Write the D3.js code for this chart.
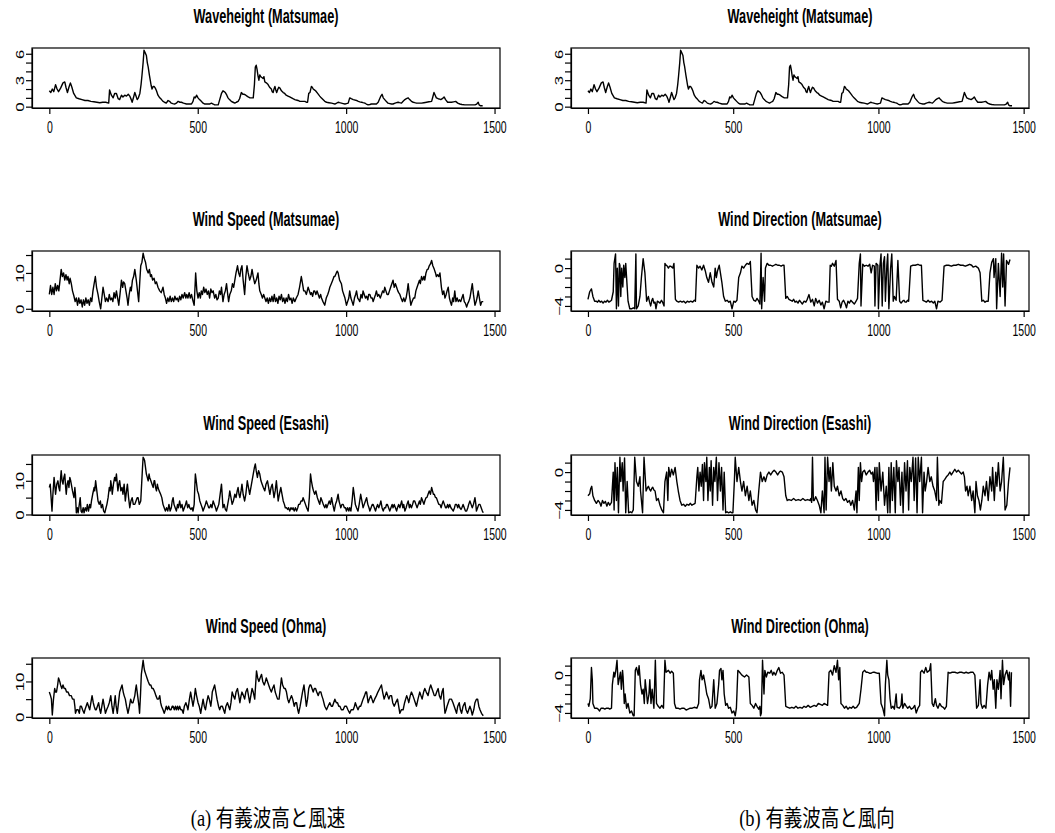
<!DOCTYPE html>
<html>
<head>
<meta charset="utf-8">
<script src="https://cdn.jsdelivr.net/npm/d3@7"></script>
<style>
  body { margin: 0; background: #fff; }
  text { font-family: "Liberation Sans", Arial, Helvetica, sans-serif; }
</style>
</head>
<body>
<script>
// values: [time index, value]
const waveMatsumae = [[0,1.8],[5,1.6],[10,2.0],[15,1.7],[21,2.5],[26,2.0],[31,1.7],[38,2.1],[46,2.7],[52,2.8],[56,2.2],[61,1.6],[66,2.2],[71,2.7],[76,2.2],[82,1.5],[91,1.0],[100,0.9],[110,0.8],[120,0.7],[130,0.7],[140,0.6],[150,0.55],[160,0.5],[170,0.45],[180,0.5],[190,0.5],[200,0.4],[203,1.9],[209,1.3],[215,1.0],[220,1.5],[226,1.5],[232,0.9],[237,0.8],[243,1.3],[248,1.1],[254,1.3],[260,1.2],[266,1.4],[271,1.2],[276,0.8],[279,0.5],[284,1.1],[288,1.6],[292,1.2],[296,0.8],[300,1.0],[305,1.5],[309,2.5],[312,3.5],[316,5.0],[319,6.4],[323,6.1],[327,5.8],[330,5.0],[333,4.5],[337,3.6],[340,3.0],[343,2.4],[346,2.0],[350,2.3],[353,2.3],[357,2.1],[361,1.8],[366,1.3],[372,1.0],[378,0.8],[383,0.6],[388,0.5],[394,0.4],[400,0.7],[405,0.6],[411,0.4],[416,0.35],[422,0.3],[428,0.4],[434,0.6],[440,0.5],[445,0.5],[452,0.4],[462,0.3],[470,0.3],[479,0.3],[484,0.6],[488,1.1],[492,1.0],[496,1.3],[501,1.0],[506,0.8],[512,0.6],[518,0.4],[524,0.3],[530,0.3],[535,0.3],[541,0.3],[546,0.4],[552,0.3],[557,0.2],[563,0.2],[569,0.2],[574,0.8],[580,1.5],[585,1.8],[589,1.7],[593,1.6],[598,1.3],[602,1.0],[607,0.8],[613,0.6],[619,0.5],[625,0.4],[630,0.5],[636,0.6],[641,0.9],[647,1.6],[652,1.4],[657,1.4],[662,1.3],[666,1.2],[670,1.1],[676,1.0],[681,1.0],[687,1.0],[691,2.5],[694,4.5],[697,4.7],[700,4.2],[703,3.5],[706,3.0],[709,3.6],[712,3.4],[716,3.3],[720,3.2],[723,3.4],[726,2.8],[731,2.7],[737,2.5],[742,2.2],[748,2.0],[751,1.7],[754,1.6],[757,2.0],[760,2.3],[763,1.9],[766,1.6],[769,1.9],[773,2.2],[777,2.1],[782,1.8],[788,1.6],[793,1.5],[798,1.3],[804,1.2],[810,1.1],[816,1.0],[821,0.9],[827,0.8],[832,0.75],[838,0.7],[844,0.6],[849,0.6],[855,0.6],[861,0.6],[866,0.5],[870,0.5],[872,1.0],[874,1.5],[878,1.6],[883,2.3],[886,2.2],[889,2.0],[893,1.9],[897,1.8],[904,1.5],[911,1.2],[916,1.0],[922,0.8],[928,0.6],[934,0.5],[942,0.45],[951,0.4],[957,0.35],[962,0.3],[968,0.4],[973,0.5],[978,0.45],[984,0.4],[990,0.35],[996,0.3],[1001,0.35],[1007,0.4],[1012,1.0],[1017,0.9],[1024,0.8],[1030,0.75],[1035,0.7],[1041,0.6],[1046,0.55],[1052,0.5],[1057,0.45],[1063,0.4],[1068,0.3],[1074,0.2],[1080,0.25],[1085,0.3],[1093,0.3],[1102,0.3],[1108,0.5],[1113,0.9],[1117,1.2],[1121,1.4],[1125,1.0],[1130,0.8],[1135,0.6],[1141,0.4],[1147,0.35],[1153,0.3],[1158,0.3],[1165,0.4],[1170,0.45],[1175,0.5],[1180,0.45],[1186,0.4],[1192,0.6],[1198,0.8],[1203,0.9],[1209,1.0],[1214,0.8],[1220,0.6],[1226,0.5],[1231,0.45],[1237,0.4],[1245,0.4],[1254,0.4],[1262,0.45],[1271,0.5],[1279,0.55],[1288,0.6],[1292,1.1],[1296,1.6],[1300,1.3],[1304,1.0],[1310,0.9],[1315,0.85],[1319,0.8],[1324,0.9],[1330,1.1],[1335,0.8],[1342,0.5],[1348,0.5],[1355,0.5],[1362,0.55],[1369,0.6],[1376,0.4],[1383,0.3],[1390,0.25],[1400,0.2],[1408,0.2],[1416,0.2],[1425,0.2],[1434,0.2],[1440,0.3],[1445,0.5],[1448,0.2],[1453,0.1],[1460,0.1]];

const speedMatsumae = [[0,4],[4,6.5],[8,4],[12,6],[16,4],[20,7],[24,5],[28,6.5],[32,5],[36,8],[40,11],[44,9],[48,10],[52,8],[56,9.5],[60,8],[63,9],[67,7],[70,8.5],[74,7],[78,5],[83,3.5],[87,2],[91,3],[95,1],[99,3],[103,1.5],[107,2.5],[111,0.5],[115,2.5],[119,1],[123,3],[127,1.5],[131,2.5],[135,1],[139,3],[143,2],[147,5],[151,7],[155,9],[159,6],[164,4],[168,2],[173,0],[177,3],[181,6],[185,4],[189,2],[193,3],[198,2],[202,4],[206,2.5],[210,3],[214,2],[218,4.5],[222,3],[226,5],[230,3],[234,1],[238,4],[243,8],[247,6],[250,7.5],[254,7],[258,5],[262,3],[265,1],[269,4],[273,6],[276,5],[280,8],[284,9],[288,11],[293,8],[297,5],[301,2],[305,8],[308,12],[312,13],[316,15.5],[320,14],[324,13],[328,11],[333,10],[337,11],[341,9],[344,9.5],[348,8],[353,8.5],[357,7],[361,7.5],[366,6],[372,5],[377,4.5],[383,6],[387,4],[391,3],[395,1.5],[399,3],[403,2],[407,3.5],[411,2],[415,3],[419,2],[423,3.5],[427,2.5],[431,3],[435,2],[439,3.5],[443,2.5],[447,4],[451,3],[456,4.5],[460,3],[463,4],[467,3],[471,4.5],[475,3],[479,4],[483,2.5],[488,1],[493,10],[497,5],[501,3],[505,4.5],[509,3],[512,5],[516,4],[520,6],[524,4.5],[528,5.5],[532,4],[536,5],[540,3],[544,5.5],[548,4.5],[552,5],[557,3],[561,4],[565,2.5],[569,3],[573,5],[577,4],[580,6],[585,2],[589,4],[593,5],[597,7],[601,4],[604,2],[608,4],[613,5],[617,7],[621,6],[625,8],[629,10],[634,12],[638,10],[642,9],[645,11],[649,12],[653,8],[658,4],[662,9],[666,12],[670,10],[675,8],[679,9],[683,11],[687,9],[692,7],[697,8],[703,10],[706,7],[709,5],[714,4],[718,3],[722,4],[726,3],[730,2],[734,3],[738,1.5],[742,3],[746,2],[750,3.5],[754,2],[758,4],[762,2],[766,3],[770,1.5],[774,3.5],[778,2.5],[782,4],[786,2],[790,3],[794,1.5],[798,3],[802,2],[806,4],[810,2.5],[814,3],[818,1.5],[822,3],[827,2],[832,3],[838,4],[843,6],[849,9],[853,7],[857,5],[861,5],[866,4],[872,6],[876,5],[880,4],[883,4.5],[887,3.5],[891,5],[894,5],[898,4],[902,5],[906,4],[910,3],[914,4],[917,3],[922,2],[928,1],[933,3],[938,4],[942,5],[945,6],[950,7],[955,8],[959,9],[962,9],[967,10],[970,10.5],[973,10],[978,8],[984,7],[988,5],[992,4],[996,3],[1001,1],[1005,2],[1009,3],[1012,5],[1016,3],[1020,2],[1024,1],[1028,3],[1032,4],[1035,5],[1039,3],[1043,2.5],[1046,2],[1050,4],[1054,3],[1057,5],[1061,4],[1065,3],[1069,3.5],[1073,2.5],[1076,4],[1080,4],[1084,3],[1088,3],[1091,2],[1095,3],[1099,4],[1102,5],[1106,3.5],[1110,4],[1115,3],[1119,4],[1123,5],[1127,4.5],[1130,6],[1134,5],[1138,4],[1142,4],[1146,5],[1150,6],[1154,7],[1158,8],[1162,6],[1166,7],[1170,6],[1174,5],[1177,4.5],[1181,4],[1185,3],[1190,2],[1194,3],[1198,2],[1202,3],[1206,5],[1209,7],[1213,4],[1218,1],[1222,2],[1227,3],[1231,3],[1235,5],[1239,6],[1243,7],[1247,8],[1250,7],[1254,9],[1258,8],[1262,9],[1265,8],[1269,10],[1273,11],[1276,11],[1280,12],[1284,12.5],[1288,13.5],[1292,12],[1297,11],[1301,10],[1304,9],[1308,9.5],[1312,9],[1316,10],[1321,6],[1325,4],[1329,5],[1333,3],[1337,4],[1340,5],[1344,6],[1348,3],[1351,2],[1355,1],[1359,3],[1362,2],[1366,5],[1370,2],[1374,3],[1378,2],[1382,2.5],[1386,2],[1390,3],[1394,4],[1398,2],[1402,1.5],[1406,0.5],[1410,1.5],[1413,2],[1417,3],[1421,5],[1425,7],[1429,4],[1434,1],[1438,2],[1441,3],[1445,5],[1449,3],[1453,1],[1457,2],[1462,2]];

const speedEsashi = [[0,8],[3,9],[6,5],[9,1],[12,6],[16,11],[19,8],[21,6],[25,9],[29,10],[32,8],[35,7],[38,11],[40,13],[43,10],[46,9],[49,11],[52,12],[55,8],[57,6],[60,9],[63,10],[66,8],[69,11],[72,10],[74,9],[78,7],[83,5],[86,8],[88,6],[91,0.5],[94,2],[97,0.5],[101,3],[104,5],[107,1],[110,0.5],[114,2],[117,0.5],[121,2],[125,1],[128,3],[132,1],[136,3],[139,2],[142,4],[146,6],[151,8],[153,7],[156,10],[160,7],[164,4],[168,3],[172,4],[175,2],[179,3],[183,1],[187,0.5],[191,2],[194,3],[198,5],[202,8],[205,7],[207,10],[210,8],[212,6],[216,9],[220,11],[223,10],[226,12],[229,9],[231,7],[234,9],[237,10],[241,7],[245,8],[248,6],[252,9],[256,4],[260,7],[263,9],[267,5],[271,2],[275,4],[279,5],[283,3],[288,3],[292,4],[296,5],[299,5],[303,3],[308,4],[311,9],[314,14],[316,17],[319,16.5],[321,16],[324,14],[327,12],[330,11],[333,10],[336,12],[338,11],[342,10],[346,9],[350,8],[353,10],[355,10],[358,8],[361,7],[364,9],[366,8],[370,7],[375,6],[379,5],[383,3],[387,2],[391,1],[395,2],[399,1],[403,3],[407,1],[411,2],[414,4],[417,5],[420,3],[424,2],[428,1],[432,3],[435,2],[439,4],[443,2],[447,3],[451,1],[455,2],[459,3],[462,4],[466,2],[470,3],[473,2],[477,1.5],[481,2],[484,1],[488,3],[490,8],[492,12],[495,10],[499,7],[503,6],[507,4],[511,3],[515,2],[518,1],[522,2],[526,3],[529,4],[533,3],[537,2],[540,2],[544,3],[548,2],[552,4],[556,3],[560,2],[563,1],[567,2],[571,3],[574,5],[577,7],[580,9],[583,5],[585,2],[589,3],[593,1.5],[597,1],[601,3],[605,5],[608,7],[612,5],[616,3],[620,4],[625,6],[629,5],[633,7],[636,8],[639,6],[642,5],[646,7],[649,9],[653,6],[658,4],[662,6],[667,10],[671,8],[675,6],[679,8],[683,10],[687,12],[691,14],[694,15],[697,13],[701,11],[705,13],[709,12],[713,10],[717,9],[721,8],[726,7],[730,9],[735,10],[739,8],[743,6],[747,8],[751,9],[754,7],[757,5],[761,7],[765,10],[768,7],[771,4],[775,6],[780,8],[784,6],[788,4],[792,3],[795,2],[799,2],[803,1.5],[806,2],[810,1],[814,2],[818,1.5],[821,2],[825,1],[829,2],[833,1],[837,2],[840,3],[844,3],[848,4],[852,4],[855,5],[859,4],[863,3],[867,2],[872,1],[876,5],[880,12],[883,10],[887,8],[890,7],[894,6],[898,7],[903,5],[907,4],[911,3],[915,5],[919,4],[923,3],[928,2],[932,3],[935,2],[939,3],[943,4],[947,3],[951,5],[955,3],[960,1],[964,3],[968,4],[973,6],[976,4],[979,3],[982,2],[986,3],[990,3],[994,2],[998,2],[1001,1],[1005,2],[1009,1],[1012,2],[1016,1],[1020,4],[1024,8],[1027,6],[1031,3],[1035,2],[1040,1],[1044,3],[1049,6],[1053,4],[1057,2],[1061,3],[1065,4],[1069,5],[1073,3],[1077,2],[1080,1],[1084,2],[1088,3],[1091,3],[1095,2],[1099,1],[1102,2],[1106,3],[1110,2],[1114,3],[1117,4],[1121,2],[1125,1],[1129,2],[1133,2],[1136,3],[1139,3],[1143,2],[1147,1],[1151,2],[1155,3],[1158,2],[1162,3],[1166,2],[1170,1],[1173,2],[1177,3],[1181,2],[1184,3],[1187,4],[1191,2],[1194,3],[1198,1],[1202,2],[1205,3],[1209,4],[1213,2],[1216,3],[1220,2],[1224,3],[1227,4],[1231,4],[1235,3],[1239,2],[1243,3],[1247,4],[1250,3],[1254,5],[1258,4],[1262,3],[1265,4],[1269,5],[1272,5],[1276,6],[1280,7],[1284,6],[1288,8],[1291,7],[1294,6],[1297,6],[1301,5],[1304,5],[1308,4],[1312,3],[1316,3],[1320,2],[1323,3],[1327,4],[1331,3],[1335,2],[1338,2],[1342,3],[1345,2],[1349,3],[1353,2],[1357,1.5],[1361,1],[1365,2],[1368,3],[1372,3],[1376,2],[1379,3],[1383,2],[1387,1.5],[1390,2],[1394,3],[1398,2],[1402,1],[1406,1],[1410,2],[1413,3],[1417,4],[1421,3],[1425,2],[1429,3],[1434,5],[1437,3],[1439,1],[1443,2],[1447,3],[1451,3],[1455,2],[1459,1],[1462,0.5]];

const speedOhma = [[0,7],[4,6],[7,5],[10,0.5],[14,5],[18,8],[21,7],[24,7],[28,9],[31,11],[35,10],[38,9],[42,8],[46,9],[50,8],[54,8],[58,7],[63,7],[68,6],[74,6],[78,5],[83,5],[86,3],[88,1],[92,2],[97,2],[101,1],[104,3],[108,3],[112,2],[117,1],[120,2],[124,3],[128,4],[132,3],[136,2],[140,4],[144,6],[148,4],[151,3],[155,2],[158,2],[162,3],[166,4],[170,2],[173,1],[177,3],[181,5],[185,3],[189,1],[193,2],[198,3],[202,4],[207,6],[211,3],[215,1],[218,3],[222,6],[225,3],[229,1],[233,4],[237,7],[241,8],[245,9],[249,7],[252,6],[256,5],[260,3],[265,1],[270,3],[274,5],[278,4],[282,4],[285,5],[288,6],[291,8],[293,9],[296,7],[299,5],[302,3],[304,1],[307,6],[310,12],[313,14],[316,16],[319,14],[321,13],[325,12],[329,11],[333,10],[338,9],[342,9],[346,8],[350,8],[355,7],[359,6],[364,5],[368,5],[372,6],[375,4],[378,3],[383,2],[387,1],[391,2],[394,3],[398,2],[402,3],[406,2],[410,2],[414,3],[417,3],[421,2],[425,3],[428,2],[432,3],[435,2],[439,3],[443,2],[447,2],[451,1],[455,3],[460,4],[464,3],[467,2],[472,5],[476,7],[480,5],[484,3],[488,5],[492,8],[496,6],[501,4],[505,3],[510,1],[514,3],[518,5],[522,3],[526,2],[530,4],[535,6],[539,5],[544,3],[547,5],[549,7],[553,8],[557,9],[561,7],[565,5],[570,3],[574,2],[578,3],[583,3],[587,2],[591,1],[595,3],[600,4],[604,3],[608,2],[612,4],[616,7],[620,6],[625,5],[629,7],[634,8],[638,6],[642,4],[646,6],[649,7],[654,6],[658,5],[662,7],[667,8],[671,6],[675,4],[679,6],[683,8],[687,7],[692,5],[695,9],[698,13],[702,11],[706,10],[710,11],[715,12],[719,10],[724,9],[728,10],[731,11],[735,10],[739,9],[743,8],[748,7],[752,8],[757,9],[761,7],[765,6],[769,5],[774,5],[778,8],[782,11],[786,9],[791,8],[795,8],[799,7],[803,5],[807,4],[811,5],[816,6],[820,5],[825,3],[829,4],[833,4],[837,2],[840,1],[845,3],[849,5],[853,7],[858,9],[862,6],[866,3],[870,5],[874,8],[878,9],[881,9],[885,8],[889,7],[893,8],[897,8],[901,7],[906,6],[910,7],[915,7],[918,6],[922,5],[928,3],[934,2],[939,3],[945,4],[950,3],[954,3],[958,4],[962,5],[967,4],[971,4],[975,3],[979,3],[984,2],[990,2],[995,3],[1001,3],[1006,2],[1012,1],[1017,2],[1024,2],[1028,3],[1031,4],[1035,3],[1040,2],[1045,3],[1049,3],[1053,4],[1057,5],[1062,6],[1066,7],[1069,7],[1074,4],[1078,5],[1083,6],[1087,5],[1091,4],[1096,5],[1102,6],[1107,7],[1113,8],[1119,9],[1123,7],[1128,5],[1132,6],[1136,7],[1140,6],[1144,5],[1148,6],[1153,6],[1157,4],[1162,3],[1167,4],[1173,5],[1177,3],[1181,1],[1186,2],[1192,2],[1197,4],[1204,6],[1208,5],[1211,4],[1216,6],[1220,7],[1225,6],[1229,5],[1233,4],[1237,3],[1242,5],[1248,7],[1252,6],[1256,5],[1261,7],[1265,8],[1270,7],[1276,6],[1281,8],[1285,9],[1289,8],[1293,7],[1297,6],[1301,6],[1305,7],[1310,8],[1314,6],[1319,5],[1323,7],[1327,8],[1330,4],[1333,1],[1337,2],[1340,3],[1344,4],[1348,5],[1352,5],[1355,5],[1360,4],[1364,3],[1368,2],[1372,1],[1376,3],[1381,4],[1385,2],[1389,1],[1394,3],[1400,4],[1404,2],[1409,1],[1413,2],[1417,3],[1421,2],[1425,0.5],[1430,2],[1434,4],[1439,5],[1443,5],[1447,3],[1451,2],[1456,1],[1462,0.3]];

const dirMatsumae = [[0,-3.3],[6,-2.5],[12,-2.2],[17,-3.0],[23,-3.5],[28,-3.5],[33,-3.6],[37,-3.4],[42,-3.6],[47,-3.5],[52,-3.7],[57,-3.5],[62,-3.6],[67,-3.4],[72,-3.6],[77,-3.5],[81,-3.4],[87,-2.5],[90,0.5],[95,1.5],[98,-4.3],[101,0],[105,-4.0],[108,0.5],[110,0.3],[113,-3.0],[116,0],[120,-2.0],[123,0.3],[127,-1.0],[130,0.5],[135,-2.0],[138,-3.5],[144,-4.3],[150,-4.3],[156,-4.2],[161,-4.3],[165,1.5],[167,-4.3],[173,-4.0],[179,-3.0],[184,-1.0],[190,1.0],[196,-0.5],[202,-3.5],[208,-3.0],[212,-3.6],[216,-4.0],[220,-3.4],[223,-3.2],[227,-3.7],[231,-3.6],[234,-4.3],[239,-3.5],[244,-3.6],[248,-3.7],[253,-3.4],[257,-3.6],[262,-4.0],[265,0.5],[268,0.3],[271,0.3],[277,0],[281,0.2],[285,0.2],[292,0],[296,0.5],[301,-3.3],[306,-3.5],[312,-3.6],[318,-3.5],[324,-3.6],[330,-3.5],[336,-3.7],[342,-3.5],[348,-3.6],[354,-3.5],[360,-3.6],[366,-3.4],[370,-3.5],[375,0.3],[381,0],[386,0.2],[392,-0.2],[398,0.3],[404,-0.3],[409,-1.0],[415,-1.5],[421,-0.5],[427,-1.5],[433,-2.0],[438,0],[442,-1.0],[446,-0.3],[452,0.3],[456,-0.5],[461,-1.5],[467,-3.0],[473,-3.5],[479,-3.4],[485,-3.6],[490,-3.5],[496,-4.3],[502,-3.5],[507,-3.6],[513,-3.4],[519,-1.0],[525,-0.5],[530,0.2],[536,0],[542,0.3],[548,0.5],[554,0.4],[559,0.7],[565,-3.0],[571,-3.4],[577,-3.5],[582,-3.2],[588,-3.5],[592,-3.8],[596,1.57],[598,-4.3],[603,-1.0],[608,-3.5],[611,0],[617,0.5],[623,0.3],[629,0.3],[635,0.2],[641,0.3],[647,0.4],[653,0.3],[659,0.3],[665,0.2],[670,0.3],[675,0.3],[681,-3.2],[686,-3.0],[692,-3.3],[698,-3.4],[703,-3.5],[708,-3.3],[713,-3.6],[718,-3.5],[723,-3.7],[728,-3.4],[733,-3.6],[738,-3.8],[744,-3.5],[750,-3.6],[755,-3.3],[761,-2.8],[767,-3.6],[773,-3.3],[779,-4.0],[784,-3.2],[790,-3.7],[796,-3.4],[802,-3.9],[807,-3.6],[813,-4.3],[819,-3.5],[825,-3.6],[830,-3.6],[834,0.3],[838,0.2],[842,0.5],[848,0.2],[854,0.8],[859,-3.3],[865,-3.5],[870,-4.2],[875,-3.6],[880,-3.4],[886,-3.8],[890,-4.2],[895,-3.5],[900,-3.7],[905,-3.4],[911,-3.6],[917,-3.8],[923,-3.5],[928,-3.2],[934,0.5],[938,1.5],[940,-4.0],[946,0.4],[952,0.2],[958,0.3],[964,0.2],[970,0.4],[975,-0.5],[980,0.3],[986,0.2],[988,-4.0],[992,0.5],[998,0.3],[1000,-4.3],[1005,0.2],[1009,1.5],[1013,-4.0],[1017,0.5],[1021,1.2],[1024,-3.5],[1029,0.3],[1032,1.5],[1036,-4.3],[1042,0],[1046,1.5],[1051,-3.5],[1055,-3.0],[1061,-3.4],[1067,0.8],[1073,-3.5],[1078,-3.7],[1083,-3.5],[1088,-3.4],[1092,-3.6],[1096,-3.6],[1100,-3.4],[1104,-3.5],[1111,0.2],[1119,0.3],[1127,0.3],[1136,0.4],[1142,0.3],[1148,0.3],[1153,-3.4],[1159,-3.5],[1165,-3.6],[1171,-3.4],[1177,-3.6],[1183,-3.5],[1189,-3.7],[1194,-3.5],[1200,-4.3],[1205,-3.5],[1212,-3.6],[1219,-3.4],[1226,0.2],[1234,0.3],[1242,0.3],[1251,0.2],[1259,0.3],[1267,0.3],[1275,0.4],[1283,0.3],[1291,0.3],[1299,0.2],[1307,0.3],[1314,0.4],[1321,0.3],[1326,0.1],[1335,0.2],[1344,0],[1350,-0.5],[1356,-3.5],[1361,-3.4],[1367,-3.6],[1372,-3.5],[1378,-3.5],[1384,-0.5],[1390,0.6],[1396,1.0],[1398,-1.0],[1404,1.0],[1407,-4.3],[1413,0.5],[1419,-3.0],[1424,1.57],[1428,-2.0],[1431,1.5],[1436,-4.0],[1441,0.8],[1448,0.4],[1453,0.9]];

const dirEsashi = [[0,-2.5],[6,-2.3],[9,-1.8],[13,-1.5],[17,-2.5],[23,-3.0],[29,-3.3],[35,-3.0],[40,-3.2],[45,-3.6],[50,-3.0],[55,-3.3],[60,-3.1],[65,-3.6],[70,-3.2],[75,-3.5],[81,-3.2],[87,0],[90,-4.0],[93,1.0],[98,-3.0],[101,0.5],[105,-4.3],[110,1.57],[113,-1.0],[118,1.0],[121,-2.0],[126,1.5],[130,-4.3],[135,-1.0],[140,-4.3],[146,-4.2],[151,-4.3],[156,-4.0],[161,1.57],[167,-1.0],[173,-1.5],[179,-0.5],[181,-2.0],[188,-4.3],[193,1.57],[200,-2.0],[204,-1.7],[208,-1.5],[212,-1.8],[216,-2.0],[220,-1.7],[223,-1.6],[227,-1.9],[231,-2.0],[236,-3.0],[242,-2.8],[248,-3.5],[254,-4.0],[260,-4.3],[265,-1.0],[271,0],[275,-3.0],[278,0.5],[283,-0.5],[288,0.3],[294,-0.3],[300,0.5],[306,-1.0],[311,-2.0],[317,-3.0],[323,-3.5],[329,-3.4],[335,-3.6],[341,-3.4],[347,-3.5],[352,-3.3],[358,-3.5],[363,-3.4],[369,-3.3],[375,-0.5],[378,0.5],[382,-2.0],[386,0],[390,-1.5],[394,0.8],[398,-3.0],[401,1.0],[406,-1.0],[409,1.57],[413,-3.0],[418,0.5],[421,-2.0],[424,1.2],[429,-3.5],[433,0.5],[437,-1.0],[442,1.57],[446,-3.0],[451,1.0],[456,-2.0],[460,0.5],[465,-4.0],[469,0],[474,-4.3],[479,-4.2],[485,-4.3],[490,-4.2],[496,-4.3],[499,-4.3],[504,-1.0],[507,1.57],[513,-1.0],[519,0.5],[525,-1.0],[530,-2.0],[536,-1.0],[542,-2.5],[548,-1.5],[554,-3.0],[559,-2.0],[565,-3.5],[571,-3.0],[577,-4.0],[582,-4.3],[588,-2.0],[594,0],[600,-1.0],[606,-0.5],[611,-1.0],[617,-0.3],[623,0],[629,-0.3],[635,0],[641,0.2],[647,0],[653,-0.3],[659,0],[663,0.1],[669,0],[675,-0.5],[681,-2.5],[686,-3.0],[692,-2.9],[700,-3.0],[708,-2.8],[716,-3.0],[724,-2.9],[732,-3.0],[740,-2.8],[748,-3.0],[756,-2.9],[764,-3.0],[767,-2.8],[770,-3.2],[773,1.57],[776,-3.0],[779,-3.0],[784,-2.6],[790,-3.0],[796,-3.5],[802,-4.3],[807,-2.0],[813,-4.3],[816,1.57],[820,-4.0],[825,1.57],[830,-1.0],[834,0.5],[838,-2.0],[843,1.0],[848,-1.5],[854,-2.0],[859,-1.5],[865,-2.5],[871,-2.0],[877,-2.8],[882,-3.0],[888,-2.8],[894,-3.2],[900,-3.0],[905,-3.5],[911,-3.0],[917,-4.0],[923,-2.0],[926,-4.3],[931,0.5],[934,-3.0],[938,1.0],[942,-1.0],[946,0],[952,0.2],[958,-0.3],[964,0],[970,0.2],[975,-0.2],[980,0],[983,-1.0],[988,0.5],[992,-4.0],[995,0.5],[1000,-3.0],[1003,1.0],[1009,-2.0],[1015,0],[1021,-3.5],[1027,-1.5],[1032,-4.3],[1036,0.5],[1040,-4.3],[1044,1.0],[1048,-3.0],[1053,0.5],[1058,-4.3],[1062,1.2],[1067,-1.0],[1071,0.5],[1076,-3.5],[1081,0],[1085,-4.3],[1090,1.0],[1095,-2.0],[1100,1.2],[1104,-4.0],[1108,0.5],[1113,-1.0],[1119,1.57],[1123,-3.0],[1128,1.5],[1133,-4.3],[1137,1.57],[1142,-1.0],[1148,1.57],[1152,-4.3],[1157,0],[1161,-2.0],[1166,-1.0],[1171,0.5],[1177,-1.0],[1182,-0.5],[1188,-1.5],[1194,-2.0],[1200,-3.0],[1203,1.57],[1208,-3.5],[1211,-3.0],[1217,-3.3],[1223,-1.0],[1228,-0.8],[1234,-0.5],[1240,-0.3],[1246,0],[1251,-0.3],[1257,0],[1263,0.3],[1269,0],[1275,0.2],[1280,0],[1286,-0.2],[1292,0],[1296,-0.5],[1300,-2.0],[1305,-1.5],[1309,-2.5],[1315,-1.5],[1321,-3.0],[1326,-2.0],[1332,-4.3],[1336,-1.0],[1341,-2.5],[1346,-3.0],[1351,-4.0],[1356,-3.0],[1361,-1.5],[1367,-2.5],[1372,-1.0],[1378,-3.0],[1384,-0.5],[1390,-2.0],[1393,0.5],[1399,-3.0],[1404,0],[1408,-1.5],[1413,1.0],[1419,-2.0],[1424,-1.0],[1430,1.57],[1436,-4.0],[1442,-3.5],[1448,-1.0],[1453,0.5]];

const dirOhma = [[0,-3.0],[3,-3.3],[8,-2.5],[12,0.8],[15,-0.5],[17,-3.0],[23,-3.5],[30,-3.5],[35,-3.6],[40,-3.8],[45,-3.5],[52,-3.5],[58,-3.6],[64,-3.5],[70,-3.5],[75,-3.6],[81,-3.5],[84,-1.0],[89,0.3],[92,-0.2],[96,0.5],[100,1.57],[104,-1.0],[107,-0.5],[112,0.3],[115,-1.5],[119,0.5],[121,-0.2],[125,-3.0],[128,-2.0],[133,-3.5],[138,-3.0],[144,-4.0],[150,-3.8],[156,-4.3],[159,-4.3],[163,0.5],[167,0.8],[173,0],[176,1.0],[181,-1.0],[186,-2.0],[190,-1.5],[194,-3.0],[197,-0.5],[202,-2.0],[205,-3.0],[210,-2.0],[213,-0.5],[217,-3.0],[221,-1.5],[227,-3.5],[232,1.57],[236,-3.0],[242,-3.3],[248,-3.5],[254,-3.2],[260,-3.5],[265,1.57],[269,0.3],[277,0.5],[283,0.2],[288,0.4],[294,0.2],[298,-3.0],[303,-3.5],[310,-3.5],[317,-3.6],[324,-3.5],[331,-3.5],[338,-3.7],[345,-3.6],[352,-3.5],[359,-3.5],[366,-3.4],[375,-3.5],[381,-3.0],[384,-0.5],[389,0.5],[393,-0.5],[398,0],[404,-1.0],[409,-2.0],[415,-2.5],[421,-3.5],[427,-3.3],[433,-0.5],[438,-3.5],[444,-3.0],[450,-1.0],[453,0.5],[458,0.7],[461,-0.5],[465,0.5],[469,-2.0],[474,-3.2],[479,-3.0],[484,-3.5],[490,-3.4],[496,-4.0],[502,-3.8],[507,-4.3],[511,-3.5],[516,0.5],[522,0.3],[530,0],[539,-0.2],[546,0],[554,-0.2],[559,-3.0],[565,-3.2],[571,-3.5],[577,-3.0],[582,-3.3],[588,-3.6],[592,-3.3],[594,-4.3],[597,-4.0],[601,1.57],[606,-2.0],[609,0.5],[614,-0.2],[619,0.3],[626,0.2],[631,0.5],[636,0],[640,0.3],[646,0],[652,0.5],[657,0.8],[663,0.2],[669,0.3],[675,0],[681,-3.3],[688,-3.4],[695,-3.5],[702,-3.4],[709,-3.5],[716,-3.3],[723,-3.5],[730,-3.4],[737,-3.5],[744,-3.3],[751,-3.4],[758,-3.2],[765,-3.4],[772,-3.3],[779,-3.2],[786,-3.3],[793,-3.0],[800,-3.1],[807,-3.2],[813,-3.0],[819,-3.1],[825,-3.2],[830,0.3],[836,0.5],[842,0],[848,1.0],[854,0.3],[859,1.57],[863,-0.5],[867,0.8],[871,-3.0],[877,-3.2],[883,-3.5],[889,-3.3],[895,-3.6],[901,-3.4],[907,-3.5],[913,-3.3],[919,-3.5],[925,-3.4],[934,-3.0],[940,-1.5],[946,0.3],[952,0.5],[958,0.3],[963,0.3],[969,0.2],[975,0.2],[981,0.3],[986,0.3],[995,0.2],[1003,0.2],[1009,-3.0],[1015,-3.5],[1021,-4.3],[1024,-1.0],[1029,1.57],[1032,0],[1036,-0.5],[1040,-2.5],[1044,-3.5],[1050,-3.3],[1055,-3.6],[1061,-2.0],[1064,-3.4],[1072,-3.5],[1078,-3.2],[1081,-2.0],[1084,-3.5],[1090,-3.0],[1096,-3.3],[1101,-3.5],[1107,-3.3],[1113,-3.6],[1119,-3.5],[1125,-3.2],[1130,-4.0],[1136,-3.5],[1142,-3.2],[1145,0.3],[1150,0.5],[1157,0.2],[1163,0.8],[1168,0.3],[1176,0.5],[1180,1.2],[1185,-3.0],[1190,-3.3],[1196,-2.5],[1200,-3.2],[1205,-3.5],[1211,-3.0],[1217,-3.3],[1223,-3.4],[1228,-3.6],[1234,-3.3],[1240,0.3],[1246,0.2],[1254,0.3],[1263,0.3],[1272,0.2],[1280,0.3],[1286,0.3],[1295,0.2],[1302,0.3],[1309,0.2],[1318,0.3],[1326,0.3],[1332,0],[1338,-3.5],[1344,-3.2],[1350,-0.5],[1353,-3.0],[1358,-3.5],[1364,-3.2],[1370,-3.5],[1376,-1.0],[1381,0.3],[1386,-0.5],[1390,0.5],[1395,-1.5],[1399,-0.5],[1404,-3.5],[1408,-0.5],[1413,-1.5],[1419,0.5],[1422,-2.5],[1427,1.57],[1431,-1.0],[1436,0],[1442,0.5],[1448,-0.5],[1451,0.3],[1455,-3.3],[1458,0.3]];

// axis ticks and which of them carry a label
const nObs = 1460;
const xTicks = [0, 500, 1000, 1500];
const waveTicks = [0, 1, 2, 3, 4, 5, 6], waveLabels = [0, 3, 6];
const speedTicks = [0, 5, 10, 15], speedLabels = [0, 10];
const dirTicks = [-4, -3, -2, -1, 0, 1], dirLabels = [-4, 0];
const captions = ["(a) 有義波高と風速", "(b) 有義波高と風向"];

const panels = [
  {title: "Waveheight (Matsumae)", data: waveMatsumae, col: 0, row: 0, ticks: waveTicks, labels: waveLabels},
  {title: "Wind Speed (Matsumae)", data: speedMatsumae, col: 0, row: 1, ticks: speedTicks, labels: speedLabels},
  {title: "Wind Speed (Esashi)", data: speedEsashi, col: 0, row: 2, ticks: speedTicks, labels: speedLabels},
  {title: "Wind Speed (Ohma)", data: speedOhma, col: 0, row: 3, ticks: speedTicks, labels: speedLabels},
  {title: "Waveheight (Matsumae)", data: waveMatsumae, col: 1, row: 0, ticks: waveTicks, labels: waveLabels},
  {title: "Wind Direction (Matsumae)", data: dirMatsumae, col: 1, row: 1, ticks: dirTicks, labels: dirLabels},
  {title: "Wind Direction (Esashi)", data: dirEsashi, col: 1, row: 2, ticks: dirTicks, labels: dirLabels},
  {title: "Wind Direction (Ohma)", data: dirOhma, col: 1, row: 3, ticks: dirTicks, labels: dirLabels}
];

// layout
const width = 1055, height = 833;
const cols = [{left: 32, right: 500}, {left: 571, right: 1029}];
const rowTop = [48, 251, 455, 658];
const boxH = 60;
const sy = 1.6;   // the original figure is stretched vertically

const svg = d3.select("body").append("svg")
    .attr("width", width)
    .attr("height", height);

// R style range: data extent padded by 4% on each side
function padded(ext) {
  const r = ext[1] - ext[0];
  return [ext[0] - 0.04 * r, ext[1] + 0.04 * r];
}

panels.forEach(function(p) {
  const c = cols[p.col];
  const top = rowTop[p.row], bottom = top + boxH;
  const g = svg.append("g");

  const x = d3.scaleLinear().domain(padded([0, nObs])).range([c.left, c.right]);
  const y = d3.scaleLinear().domain(padded(d3.extent(p.data, d => d[1]))).range([bottom, top]);

  // the series
  g.append("path")
      .datum(p.data)
      .attr("fill", "none")
      .attr("stroke", "#000")
      .attr("stroke-width", 1.4)
      .attr("stroke-linejoin", "round")
      .attr("d", d3.line().x(d => x(d[0])).y(d => y(d[1])));

  // box
  g.append("rect")
      .attr("x", c.left).attr("y", top)
      .attr("width", c.right - c.left).attr("height", boxH)
      .attr("fill", "none").attr("stroke", "#000").attr("stroke-width", 1.2);

  // x axis
  const xa = g.append("g")
      .attr("transform", "translate(0," + bottom + ")")
      .call(d3.axisBottom(x).tickValues(xTicks).tickSize(6).tickSizeOuter(0)
        .tickFormat(d3.format("d")));
  xa.selectAll(".tick text")
      .attr("y", 25 / sy).attr("dy", null)
      .attr("transform", "scale(1," + sy + ")");

  // y axis, labels parallel to the axis
  const ya = g.append("g")
      .attr("transform", "translate(" + c.left + ",0)")
      .call(d3.axisLeft(y).tickValues(p.ticks).tickSize(6).tickSizeOuter(0)
        .tickFormat(d => p.labels.includes(d) ? d3.format("d")(d) : ""));
  ya.selectAll(".tick text")
      .attr("x", 0).attr("y", 0).attr("dy", null)
      .attr("text-anchor", "middle")
      .attr("transform", "translate(-8,0) scale(1," + sy + ") rotate(-90)");

  [xa, ya].forEach(function(a) {
    a.attr("font-size", 10.5).attr("font-family", null);
    a.select(".domain").attr("stroke-width", 1.2);
    a.selectAll(".tick line").attr("stroke-width", 1.2);
  });

  // title
  g.append("text")
      .attr("transform", "translate(" + ((c.left + c.right) / 2) + "," + (top - 25) + ") scale(1," + sy + ")")
      .attr("text-anchor", "middle")
      .attr("font-size", 12.7)
      .attr("font-weight", "bold")
      .text(p.title);
});

// sub-figure captions
const capX = [268, 817];
captions.forEach(function(t, i) {
  svg.append("text")
      .attr("transform", "translate(" + capX[i] + ",826) scale(1,1.2)")
      .attr("text-anchor", "middle")
      .attr("font-size", 18.5)
      .style("font-family", "'Liberation Serif', 'Noto Sans CJK JP', serif")
      .text(t);
});
</script>
</body>
</html>
